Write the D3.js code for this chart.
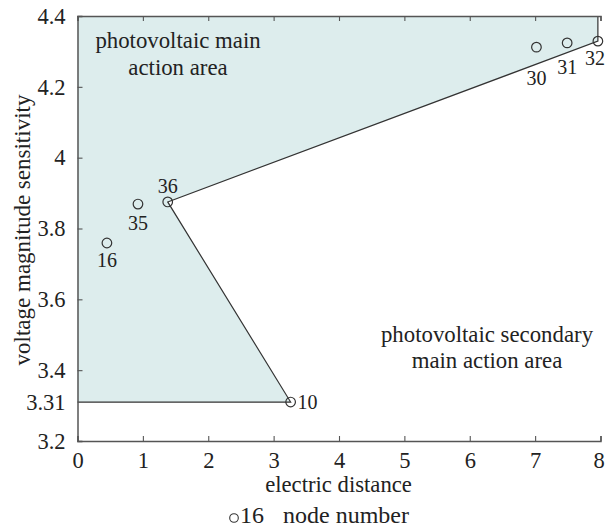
<!DOCTYPE html>
<html>
<head>
<meta charset="utf-8">
<script src="https://cdn.jsdelivr.net/npm/d3@7"></script>
<style>
  html, body { margin: 0; padding: 0; background: #fff; }
  svg { display: block; }
  svg text { font-family: "Liberation Serif", "DejaVu Serif", serif; fill: #222; }
</style>
</head>
<body>
<svg id="chart" width="605" height="529"></svg>
<script>
// Node data: electric distance vs. voltage magnitude sensitivity
const nodeIds   = ["16", "35", "36", "10", "30", "31", "32"];
const distances = [0.45, 0.925, 1.38, 3.26, 7.02, 7.49, 7.96];
const sensitivities = [3.759, 3.869, 3.875, 3.31, 4.312, 4.324, 4.329];

// Label offsets per node (dx, dy in px, anchor)
const labelPos = {
  "16": [0, 24, "middle"],
  "35": [0, 26, "middle"],
  "36": [0, -9, "middle"],
  "10": [7, 7, "start"],
  "30": [0, 38, "middle"],
  "31": [0, 31, "middle"],
  "32": [-3, 24, "middle"]
};

// Boundary of the main action region
const boundaryIds = ["32", "36", "10"];
const xTicks = [0, 1, 2, 3, 4, 5, 6, 7, 8];
const yTicks = [3.2, 3.31, 3.4, 3.6, 3.8, 4, 4.2, 4.4];

const svg = d3.select("#chart");
const plotLeft = 77.5, plotRight = 600.5, plotTop = 16, plotBottom = 441;

const x = d3.scaleLinear().domain([0, 8]).range([plotLeft, plotRight]);
const y = d3.scaleLinear().domain([3.2, 4.4]).range([plotBottom, plotTop]);

const pts = nodeIds.map((id, i) => ({ id, d: distances[i], s: sensitivities[i] }));
const byId = Object.fromEntries(pts.map(p => [p.id, p]));
const bnd = boundaryIds.map(id => byId[id]);
const line = d3.line().x(d => x(d[0])).y(d => y(d[1]));

// Shaded region: top edge, down the boundary, back to the left axis
const region = [
  [0, 4.4], [bnd[0].d, 4.4],
  ...bnd.map(p => [p.d, p.s]),
  [0, bnd[bnd.length - 1].s]
];
svg.append("path").attr("d", line(region) + "Z").attr("fill", "#ddeded");

// Boundary lines
const boundaryLine = [[bnd[0].d, 4.4], ...bnd.map(p => [p.d, p.s]), [0, bnd[bnd.length - 1].s]];
svg.append("path").attr("d", line(boundaryLine))
  .attr("fill", "none").attr("stroke", "#333").attr("stroke-width", 1.2);

// Axes with inward ticks
const axisColor = "#555";
const tickFont = 22.5;

const xAxis = svg.append("g").attr("transform", `translate(0,${plotBottom})`)
  .call(d3.axisBottom(x).tickValues(xTicks).tickSize(-5).tickPadding(11).tickFormat(d3.format("d")));
const xTop = svg.append("g").attr("transform", `translate(0,${plotTop})`)
  .call(d3.axisTop(x).tickValues(xTicks).tickSize(-5).tickFormat(""));
const yAxis = svg.append("g").attr("transform", `translate(${plotLeft},0)`)
  .call(d3.axisLeft(y).tickValues(yTicks).tickSize(-5).tickPadding(12).tickFormat(d => String(d)));

[xAxis, xTop, yAxis].forEach(g => {
  g.attr("font-family", null).attr("font-size", null);
  g.select(".domain").attr("stroke", axisColor).attr("stroke-width", 1.5);
  g.selectAll(".tick line").attr("stroke", axisColor).attr("stroke-width", 1.1);
  g.selectAll(".tick text").style("font-size", tickFont + "px");
});
// keep the last x label inside the page edge
xAxis.selectAll(".tick").filter(d => d === 8).select("text").attr("dx", -2);
// 3.31 marks the region base, drawn by the boundary line itself
yAxis.selectAll(".tick").filter(d => d === 3.31).select("line").remove();

// Node markers and numbers
svg.append("g").selectAll("circle").data(pts).join("circle")
  .attr("cx", d => x(d.d)).attr("cy", d => y(d.s)).attr("r", 4.8)
  .attr("fill", "none").attr("stroke", "#333").attr("stroke-width", 1.2);

svg.append("g").selectAll("text").data(pts).join("text")
  .attr("x", d => x(d.d) + labelPos[d.id][0])
  .attr("y", d => y(d.s) + labelPos[d.id][1])
  .attr("text-anchor", d => labelPos[d.id][2])
  .style("font-size", "20px")
  .text(d => d.id);

// Region annotations
const ann = svg.append("g").attr("text-anchor", "middle").style("font-size", "22.8px");
ann.append("text").attr("x", 178).attr("y", 48).text("photovoltaic main");
ann.append("text").attr("x", 178).attr("y", 75).text("action area");
ann.append("text").attr("x", 487).attr("y", 342).text("photovoltaic secondary");
ann.append("text").attr("x", 487).attr("y", 368).text("main action area");

// Axis titles
svg.append("text").attr("x", 338.5).attr("y", 492).attr("text-anchor", "middle")
  .style("font-size", "22.7px").text("electric distance");
svg.append("text").attr("transform", "translate(30,230) rotate(-90)").attr("text-anchor", "middle")
  .style("font-size", "23px").text("voltage magnitude sensitivity");

// Legend
svg.append("circle").attr("cx", 234).attr("cy", 518).attr("r", 4.3)
  .attr("fill", "none").attr("stroke", "#333").attr("stroke-width", 1.1);
svg.append("text").attr("x", 240).attr("y", 523).style("font-size", "24px").text("16");
svg.append("text").attr("x", 283).attr("y", 523).style("font-size", "24px").text("node number");
</script>
</body>
</html>
